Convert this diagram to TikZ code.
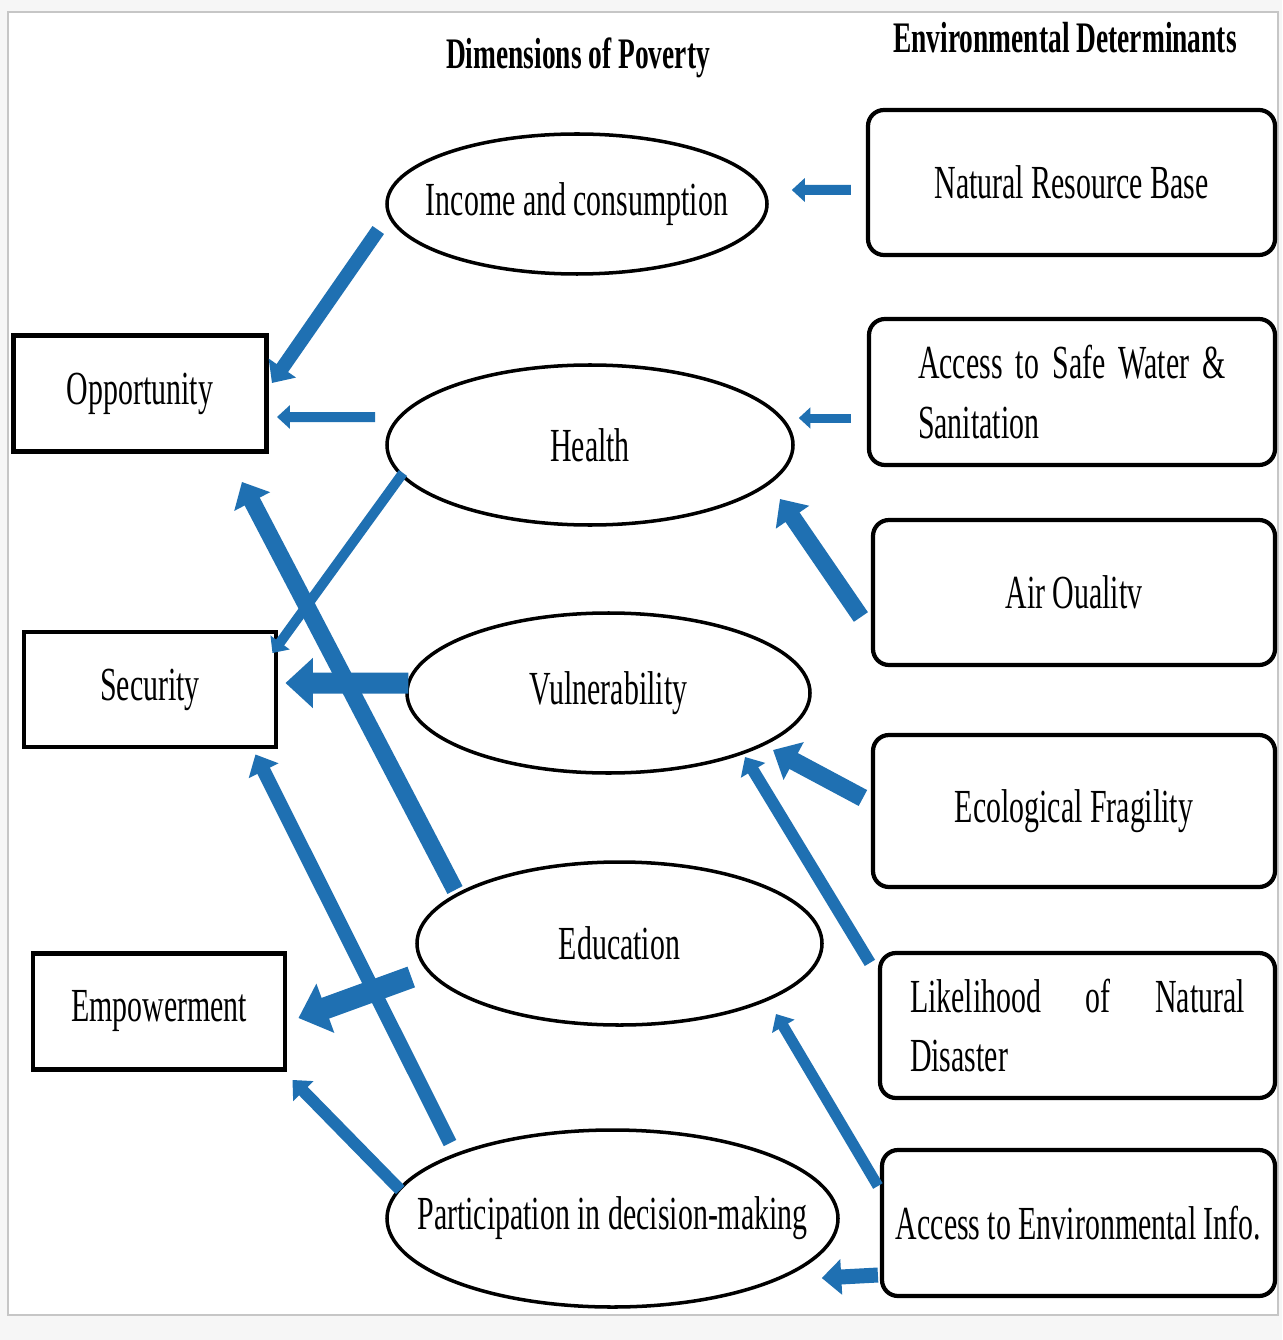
\documentclass[tikz,border=0pt]{standalone}
\usepackage{fontspec}
\setmainfont{Liberation Serif}[FakeStretch=0.63]
\usepackage{tikz}
\usetikzlibrary{shapes}
\usetikzlibrary{arrows.meta, positioning}
\definecolor{arrowblue}{RGB}{31,112,178}
\hyphenpenalty=10000
\exhyphenpenalty=10000
\newcommand{\bodyfont}{\fontsize{13.5pt}{17pt}\selectfont}
\newcommand{\headfont}{\fontsize{12.4pt}{14pt}\selectfont\bfseries}
\tikzset{
  dimension/.style = {ellipse, draw, line width=1pt, inner xsep=-0.8cm, inner ysep=0pt, font=\bodyfont},
  outcome/.style = {rectangle, draw, line width=1.4pt, minimum width=2.53cm, minimum height=1.16cm, font=\bodyfont},
  determinant/.style = {rectangle, draw, rounded corners=0.16cm, line width=1.2pt, minimum height=1.45cm, font=\bodyfont},
  heading/.style = {font=\headfont},
  link/.style = {draw=arrowblue, line width=#1, -{Triangle[length=0pt 1.3, width=0pt 2.3]}},
  link/.default = 0.1cm
}

\begin{document}
\begin{tikzpicture}
    \useasboundingbox (0,0) rectangle (12.82,-13.40);
    \fill[gray!7] (0,0) rectangle (12.82,-13.40);
    \filldraw[fill=white, draw=gray!45, line width=0.6pt] (0.08,-0.12) rectangle (12.78,-13.15);

    % headings
    \node (dimtitle) [heading] at (5.78,-0.58) {Dimensions of Poverty};
    \node (dettitle) [heading] at (10.65,-0.38) {Environmental Determinants};

    % dimensions of poverty
    \node (inc) [dimension, minimum width=3.80cm, minimum height=1.40cm] at (5.77,-2.04) {Income and consumption};
    \node (hea) [dimension, minimum width=4.06cm, minimum height=1.60cm] at (5.90,-4.45) {Health};
    \node (vul) [dimension, minimum width=4.03cm, minimum height=1.60cm] at (6.085,-6.93) {Vulnerability};
    \node (edu) [dimension, minimum width=4.05cm, minimum height=1.63cm] at (6.195,-9.435) {Education};
    \node (par) [dimension, minimum width=4.51cm, minimum height=1.77cm] at (6.125,-12.185) {Participation in decision-making};

    % outcomes
    \node (opp) [outcome] at (1.40,-3.935) {Opportunity};
    \node (sec) [outcome, minimum width=2.52cm, minimum height=1.15cm] at (1.50,-6.895) {Security};
    \node (emp) [outcome, minimum width=2.52cm] at (1.59,-10.115) {Empowerment};

    % environmental determinants
    \node (nrb) [determinant, minimum width=4.07cm] at (10.715,-1.825) {Natural Resource Base};
    \node (wat) [determinant, minimum width=4.06cm, minimum height=1.46cm, text width=3.08cm, align=justify] at (10.72,-3.92) {Access to Safe Water \& Sanitation};
    \node (air) [determinant, minimum width=4.02cm] at (10.74,-5.925) {Air Oualitv};
    \node (eco) [determinant, minimum width=4.02cm, minimum height=1.52cm] at (10.74,-8.11) {Ecological Fragility};
    \node (lik) [determinant, minimum width=3.95cm, text width=3.35cm, align=justify] at (10.775,-10.255) {Likelihood of Natural Disaster};
    \node (inf) [determinant, minimum width=3.93cm, minimum height=1.46cm] at (10.785,-12.23) {Access to Environmental Info.};

    \path
    ([shift={(-0.15,-0.075)}]nrb.west) edge[link=0.10cm] ([shift={(0.23,0.14)}]inc.east)
    ([shift={(-0.07,-0.26)}]inc.west) edge[link=0.14cm] ([shift={(0.03,0.105)}]opp.east)
    ([shift={(-0.10,0.28)}]hea.west) edge[link=0.10cm] ([shift={(0.08,-0.235)}]opp.east)
    ([shift={(-0.16,-0.26)}]wat.west) edge[link=0.09cm] ([shift={(0.04,0.27)}]hea.east)
    ([shift={(-0.10,-0.245)}]air.west) edge[link=0.17cm] ([shift={(1.90,-0.54)}]hea.center)
    ([shift={(-1.87,-0.28)}]hea.center) edge[link=0.10cm] ([shift={(-0.06,0.365)}]sec.east)
    ([shift={(0.03,0.10)}]vul.west) edge[link=0.21cm] ([shift={(0.07,0.065)}]sec.east)
    ([shift={(-1.645,0.535)}]edu.center) edge[link=0.17cm] ([shift={(-0.27,-0.28)}]opp.south east)
    ([shift={(-0.08,0.13)}]eco.west) edge[link=0.18cm] ([shift={(1.645,-0.57)}]vul.center)
    ([shift={(-0.08,-0.12)}]lik.north west) edge[link=0.12cm] ([shift={(1.365,-0.64)}]vul.center)
    ([shift={(-0.04,-0.335)}]edu.west) edge[link=0.22cm] ([shift={(0.11,-0.065)}]emp.east)
    ([shift={(-1.625,0.755)}]par.center) edge[link=0.14cm] ([shift={(-0.23,-0.05)}]sec.south east)
    ([shift={(0.15,0.285)}]par.west) edge[link=0.12cm] ([shift={(0.05,-0.08)}]emp.south east)
    ([shift={(-0.02,0.37)}]inf.west) edge[link=0.11cm] ([shift={(1.565,-0.705)}]edu.center)
    ([shift={(-0.02,-0.52)}]inf.west) edge[link=0.15cm] ([shift={(-0.18,-0.595)}]par.east);
\end{tikzpicture}
\end{document}
